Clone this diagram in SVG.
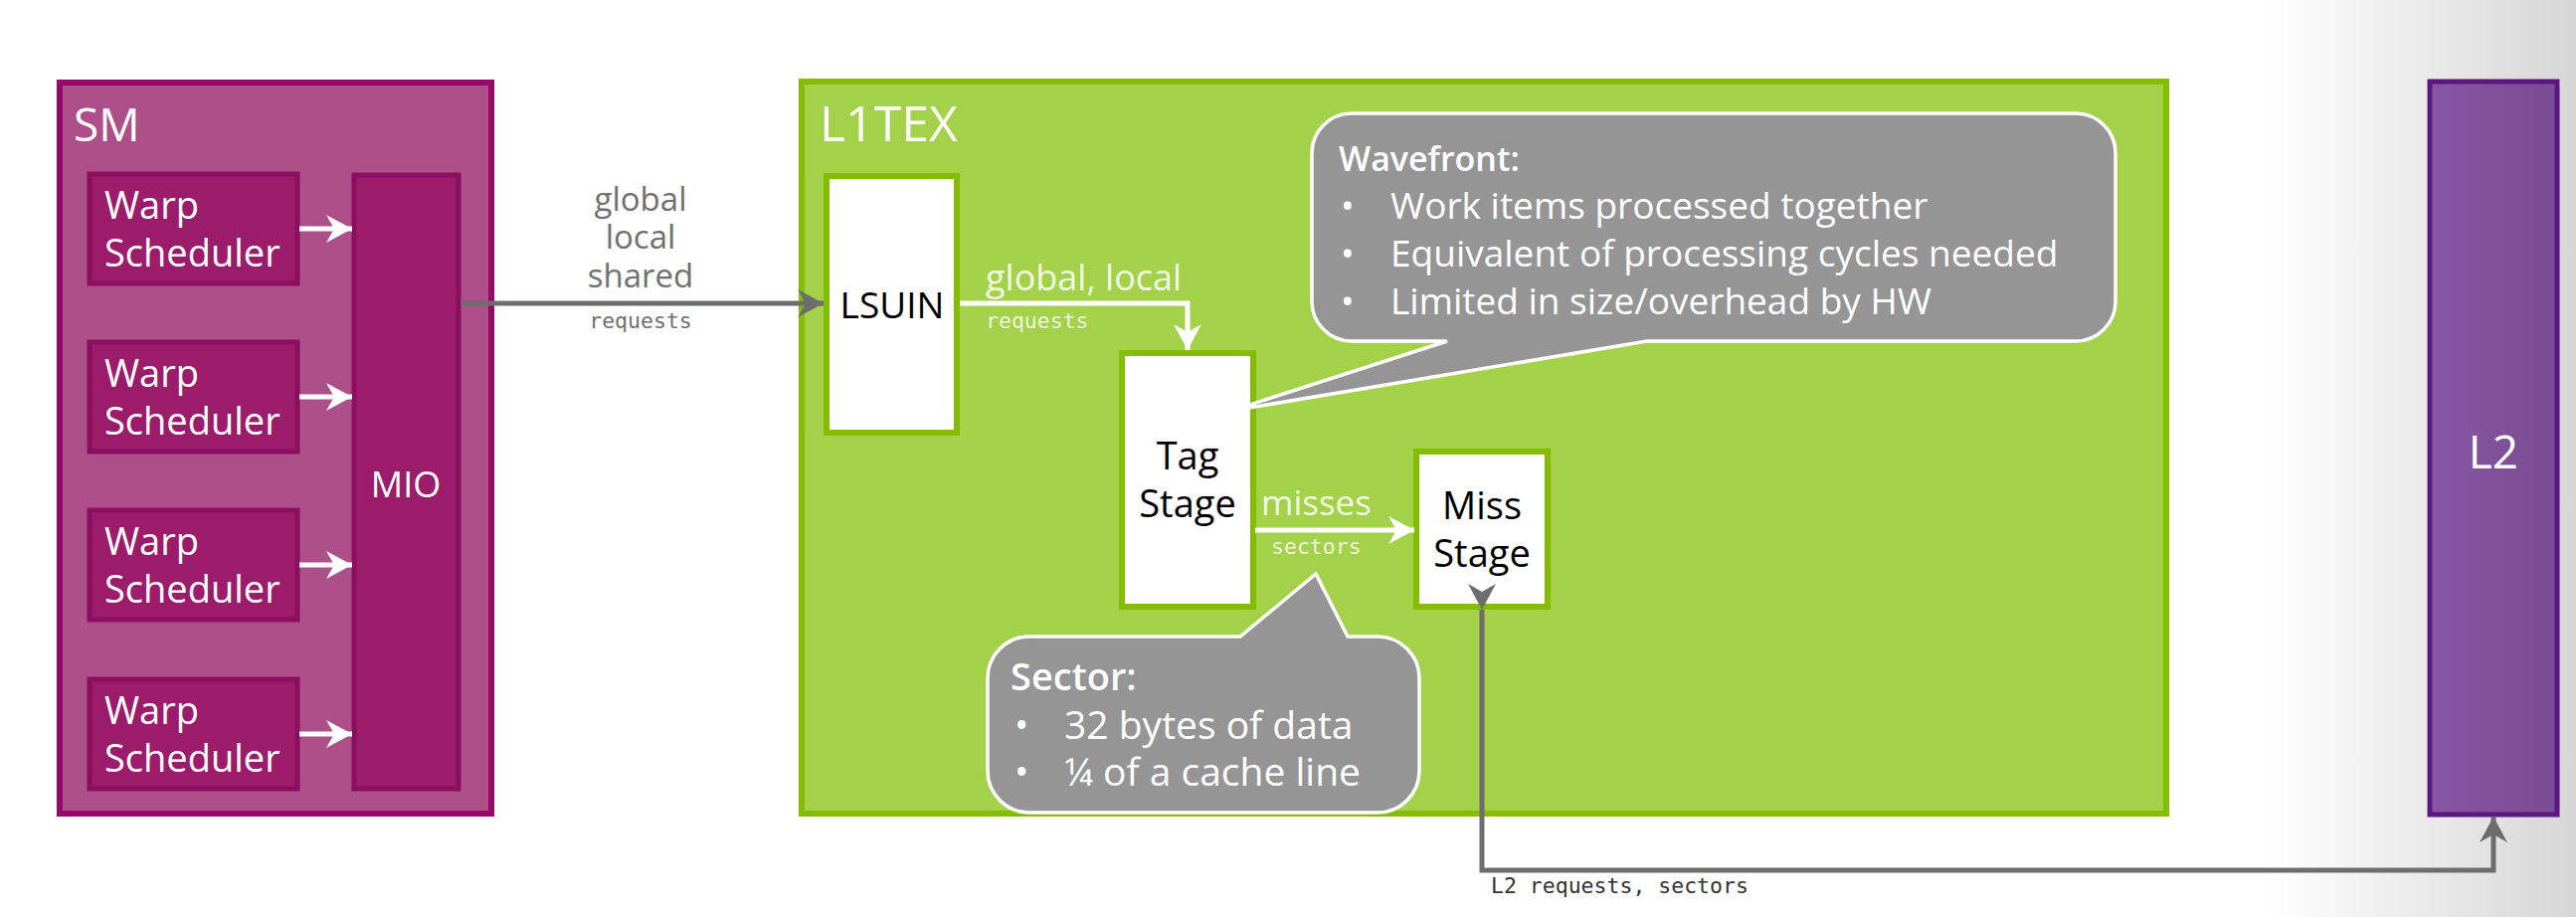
<svg xmlns="http://www.w3.org/2000/svg" width="2590" height="922" viewBox="0 0 2590 922">
<defs>
<linearGradient id="bgR" x1="0" y1="0" x2="1" y2="0">
<stop offset="0" stop-color="#ffffff"/>
<stop offset="1" stop-color="#d6d6d6"/>
</linearGradient>
<linearGradient id="l2g" x1="0" y1="0" x2="1" y2="0">
<stop offset="0" stop-color="#8656a4"/>
<stop offset="1" stop-color="#7a4d92"/>
</linearGradient>
<marker id="ahW" markerUnits="userSpaceOnUse" viewBox="0 0 28 30" markerWidth="28" markerHeight="30" refX="27" refY="15" orient="auto">
<path d="M1,1 L27,15 L1,29 L9,15 Z" fill="#ffffff"/>
</marker>
<marker id="ahG" markerUnits="userSpaceOnUse" viewBox="0 0 28 30" markerWidth="28" markerHeight="30" refX="27" refY="15" orient="auto">
<path d="M1,1 L27,15 L1,29 L9,15 Z" fill="#6d6d6d"/>
</marker>
</defs>
<style>
.sm{fill:#ad5089;stroke:#98086a;stroke-width:6}
.ws{fill:#9b1c6b;stroke:#8c0e61;stroke-width:5}
.l1{fill:#a3d14a;stroke:#84bd00;stroke-width:6}
.st{fill:#ffffff;stroke:#84bd00;stroke-width:6}
.l2{fill:url(#l2g);stroke:#5d1782;stroke-width:5}
.co{fill:#959595;stroke:#ffffff;stroke-width:3.5}
.t{font-family:"Open Sans","DejaVu Sans",sans-serif}
.wt{fill:#ffffff}
.bk{fill:#000000}
.mono{font-family:"DejaVu Sans Mono","Liberation Mono",monospace;font-size:21.5px}
.cw{fill:none;stroke:#ffffff;stroke-width:5}
.cg{fill:none;stroke:#6d6d6d;stroke-width:5}
</style>
<rect x="0" y="0" width="2590" height="922" fill="#ffffff"/>
<rect x="2280" y="0" width="310" height="922" fill="url(#bgR)"/>

<g id="SM">
<rect class="sm" x="60" y="83" width="434" height="735"/>
<text class="t wt" x="74" y="142" font-size="46">SM</text>
</g>
<g id="warp1">
<rect class="ws" x="90" y="175" width="209" height="110"/>
<text class="t wt" x="105" y="220" font-size="38">Warp</text>
<text class="t wt" x="105" y="268" font-size="38">Scheduler</text>
</g>
<g id="warp2">
<rect class="ws" x="90" y="344" width="209" height="110"/>
<text class="t wt" x="105" y="389" font-size="38">Warp</text>
<text class="t wt" x="105" y="437" font-size="38">Scheduler</text>
</g>
<g id="warp3">
<rect class="ws" x="90" y="513" width="209" height="110"/>
<text class="t wt" x="105" y="558" font-size="38">Warp</text>
<text class="t wt" x="105" y="606" font-size="38">Scheduler</text>
</g>
<g id="warp4">
<rect class="ws" x="90" y="683" width="209" height="110"/>
<text class="t wt" x="105" y="728" font-size="38">Warp</text>
<text class="t wt" x="105" y="776" font-size="38">Scheduler</text>
</g>
<g id="MIO">
<rect class="ws" x="356" y="176" width="105" height="617"/>
<text class="t wt" x="408" y="500" font-size="36" text-anchor="middle">MIO</text>
</g>

<g id="L1TEX">
<rect class="l1" x="806" y="82" width="1372" height="736"/>
<text class="t wt" x="824" y="142" font-size="50">L1TEX</text>
</g>
<g id="LSUIN">
<rect class="st" x="831" y="177" width="131" height="258"/>
<text class="t bk" x="897" y="320" font-size="37" text-anchor="middle">LSUIN</text>
</g>
<g id="TagStage">
<rect class="st" x="1128" y="355" width="132" height="255"/>
<text class="t bk" x="1194" y="472" font-size="38" text-anchor="middle">Tag</text>
<text class="t bk" x="1194" y="520" font-size="38" text-anchor="middle">Stage</text>
</g>
<g id="MissStage">
<rect class="st" x="1424" y="454" width="132" height="156"/>
<text class="t bk" x="1490" y="522" font-size="38" text-anchor="middle">Miss</text>
<text class="t bk" x="1490" y="570" font-size="38" text-anchor="middle">Stage</text>
</g>
<g id="L2">
<rect class="l2" x="2443" y="82" width="128" height="737"/>
<text class="t wt" x="2507" y="471" font-size="46" text-anchor="middle">L2</text>
</g>

<g id="connectors">
<line class="cw" x1="301" y1="230" x2="354" y2="230" marker-end="url(#ahW)"/>
<line class="cw" x1="301" y1="399" x2="354" y2="399" marker-end="url(#ahW)"/>
<line class="cw" x1="301" y1="568" x2="354" y2="568" marker-end="url(#ahW)"/>
<line class="cw" x1="301" y1="738" x2="354" y2="738" marker-end="url(#ahW)"/>
<line class="cg" x1="463" y1="305" x2="828" y2="305" marker-end="url(#ahG)"/>
<path class="cw" d="M965,305 H1194 V352" marker-end="url(#ahW)"/>
<line class="cw" x1="1262" y1="533" x2="1422" y2="533" marker-end="url(#ahW)"/>
<path class="cg" d="M1490,613 V875 H2507 V821" marker-start="url(#ahG)" marker-end="url(#ahG)"/>
</g>
<g id="connector-labels">
<text class="t" fill="#707070" font-size="33" x="644" y="212" text-anchor="middle">global</text>
<text class="t" fill="#707070" font-size="33" x="644" y="250" text-anchor="middle">local</text>
<text class="t" fill="#707070" font-size="33" x="644" y="289" text-anchor="middle">shared</text>
<text class="mono" fill="#707070" x="644" y="330" text-anchor="middle">requests</text>
<text class="t" fill="#f2f9e4" font-size="36" x="991" y="292">global, local</text>
<text class="mono" fill="#eef7dc" x="991" y="330">requests</text>
<text class="t" fill="#f2f9e4" font-size="35" x="1268" y="518">misses</text>
<text class="mono" fill="#eef7dc" x="1278" y="557">sectors</text>
<text class="mono" fill="#333333" x="1499" y="898">L2 requests, sectors</text>
</g>

<g id="WavefrontCallout">
<path class="co" d="M1359,114 H2087 A40,40 0 0 1 2127,154 V303 A40,40 0 0 1 2087,343 H1656 L1238,413 L1455,343 H1359 A40,40 0 0 1 1319,303 V154 A40,40 0 0 1 1359,114 Z"/>
<text class="t wt" x="1346" y="172" font-size="34" font-weight="600">Wavefront:</text>
<text class="t wt" x="1348" y="220" font-size="36">•</text>
<text class="t wt" x="1398" y="220" font-size="37">Work items processed together</text>
<text class="t wt" x="1348" y="268" font-size="36">•</text>
<text class="t wt" x="1398" y="268" font-size="37">Equivalent of processing cycles needed</text>
<text class="t wt" x="1348" y="316" font-size="36">•</text>
<text class="t wt" x="1398" y="316" font-size="37">Limited in size/overhead by HW</text>
</g>
<g id="SectorCallout">
<path class="co" d="M1035,640 H1247 L1323,577 L1355,640 H1385 A42,42 0 0 1 1427,682 V775 A42,42 0 0 1 1385,817 H1035 A42,42 0 0 1 993,775 V682 A42,42 0 0 1 1035,640 Z"/>
<text class="t wt" x="1016" y="694" font-size="38" font-weight="600">Sector:</text>
<text class="t wt" x="1020" y="743" font-size="38">•</text>
<text class="t wt" x="1070" y="743" font-size="39">32 bytes of data</text>
<text class="t wt" x="1020" y="790" font-size="38">•</text>
<text class="t wt" x="1070" y="790" font-size="39">¼ of a cache line</text>
</g>
</svg>
